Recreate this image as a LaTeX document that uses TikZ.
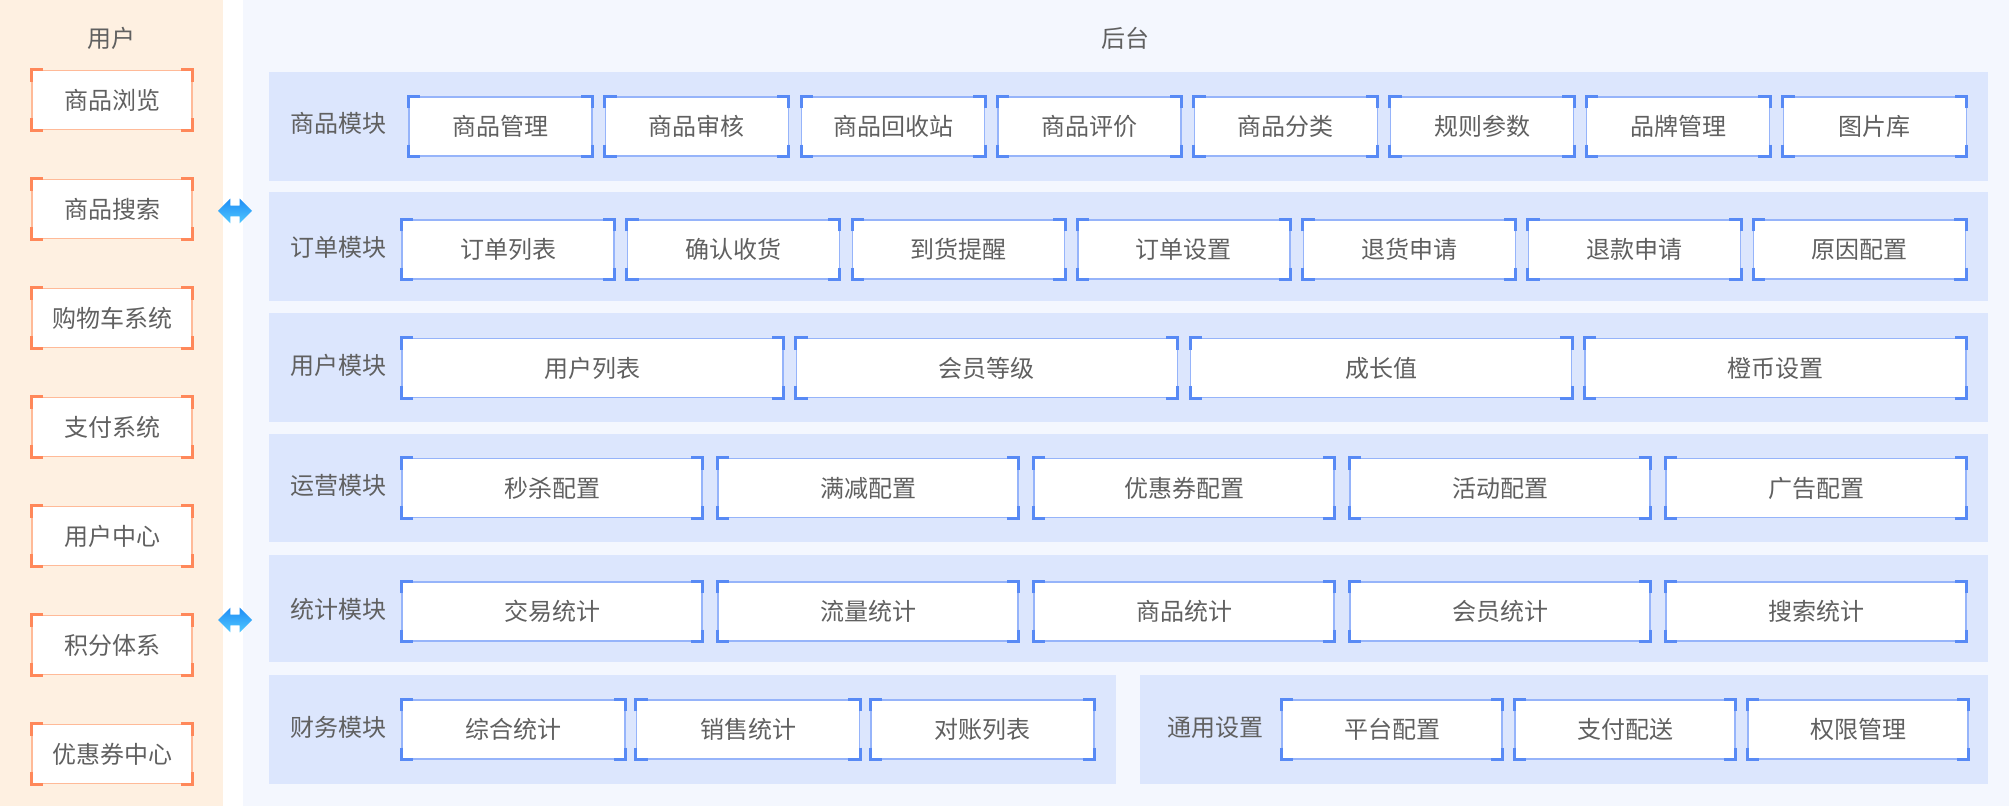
\documentclass[tikz,border=0pt]{standalone}
\usepackage{fontspec}
\setmainfont{Noto Sans CJK SC}
\usetikzlibrary{shapes.arrows}
\definecolor{panelorange}{RGB}{254,240,225}
\definecolor{backblue}{RGB}{244,247,254}
\definecolor{rowblue}{RGB}{220,230,253}
\definecolor{lineblue}{RGB}{150,180,250}
\definecolor{cornerblue}{RGB}{88,138,245}
\definecolor{lineorange}{RGB}{255,186,152}
\definecolor{cornerorange}{RGB}{255,136,90}
\definecolor{textgray}{RGB}{96,96,96}
\definecolor{arrowtop}{RGB}{30,140,245}
\definecolor{arrowbottom}{RGB}{80,200,255}
% corner brackets of a box: node name, colour
\newcommand{\boxcorners}[2]{%
  \draw[#2,line width=1.5pt] ([yshift=-6pt]#1.north west) -- (#1.north west) -- ([xshift=6pt]#1.north west);
  \draw[#2,line width=1.5pt] ([yshift=-6pt]#1.north east) -- (#1.north east) -- ([xshift=-6pt]#1.north east);
  \draw[#2,line width=1.5pt] ([yshift=6pt]#1.south west) -- (#1.south west) -- ([xshift=6pt]#1.south west);
  \draw[#2,line width=1.5pt] ([yshift=6pt]#1.south east) -- (#1.south east) -- ([xshift=-6pt]#1.south east);
}

\begin{document}
\begin{tikzpicture}[x=0.5pt,y=-0.5pt,
  every node/.style={font=\fontsize{12}{14}\selectfont,text=textgray},
  modbox/.style={draw=lineblue,line width=0.6pt,fill=white,minimum width=#1,minimum height=29.5pt,inner sep=0pt},
  userbox/.style={draw=lineorange,line width=0.6pt,fill=white,minimum width=80pt,minimum height=29.5pt,inner sep=0pt},
  twoway/.style={double arrow,double arrow head extend=3.5pt,inner xsep=0pt,inner ysep=2.5pt,minimum height=17pt,top color=arrowtop,bottom color=arrowbottom,draw=none}]
\useasboundingbox (0,0) rectangle (2009,806);
% backgrounds
\fill[white] (0,0) rectangle (2009,806);
\fill[panelorange] (0,0) rectangle (223,806);
\fill[backblue] (243,0) rectangle (2009,806);
\fill[rowblue] (269,72) rectangle (1988,181);
\fill[rowblue] (269,192) rectangle (1988,301);
\fill[rowblue] (269,313) rectangle (1988,422);
\fill[rowblue] (269,434) rectangle (1988,542);
\fill[rowblue] (269,555) rectangle (1988,662);
\fill[rowblue] (269,675) rectangle (1116,784);
\fill[rowblue] (1140,675) rectangle (1988,784);

\node (usertitle) at (111,38) {用户};
\node (backtitle) at (1125,38) {后台};

% user side
\foreach \t [count=\i] in {商品浏览,商品搜索,购物车系统,支付系统,用户中心,积分体系,优惠券中心} {
  \node[userbox] (u\i) at (112,{100+(\i-1)*109}) {\t};
  \boxcorners{u\i}{cornerorange}
}
\node[twoway] (link1) at (235,211) {};
\node[twoway] (link2) at (235,620) {};

% modules
\node (goods) at (338,123.5) {商品模块};
\foreach \t [count=\i] in {商品管理,商品审核,商品回收站,商品评价,商品分类,规则参数,品牌管理,图片库} {
  \node[modbox=91.5pt] (g\i) at ({500.5+(\i-1)*196.3},126.5) {\t};
  \boxcorners{g\i}{cornerblue}
}
\node (order) at (338,247.5) {订单模块};
\foreach \t [count=\i] in {订单列表,确认收货,到货提醒,订单设置,退货申请,退款申请,原因配置} {
  \node[modbox=106pt] (o\i) at ({508+(\i-1)*225.3},249.5) {\t};
  \boxcorners{o\i}{cornerblue}
}
\node (member) at (338,365.5) {用户模块};
\foreach \t [count=\i] in {用户列表,会员等级,成长值,橙币设置} {
  \node[modbox=190.5pt] (m\i) at ({592.5+(\i-1)*394.3},368) {\t};
  \boxcorners{m\i}{cornerblue}
}
\node (operate) at (338,485) {运营模块};
\foreach \t [count=\i] in {秒杀配置,满减配置,优惠券配置,活动配置,广告配置} {
  \node[modbox=150pt] (p\i) at ({552+(\i-1)*316},488) {\t};
  \boxcorners{p\i}{cornerblue}
}
\node (stats) at (338,609.5) {统计模块};
\foreach \t [count=\i] in {交易统计,流量统计,商品统计,会员统计,搜索统计} {
  \node[modbox=150pt] (s\i) at ({552+(\i-1)*316},611.5) {\t};
  \boxcorners{s\i}{cornerblue}
}
\node (finance) at (338,727.5) {财务模块};
\foreach \t [count=\i] in {综合统计,销售统计,对账列表} {
  \node[modbox=111.5pt] (f\i) at ({513.5+(\i-1)*234.5},729.5) {\t};
  \boxcorners{f\i}{cornerblue}
}
\node (general) at (1215,727.5) {通用设置};
\foreach \t [count=\i] in {平台配置,支付配送,权限管理} {
  \node[modbox=110pt] (c\i) at ({1392+(\i-1)*233},729.5) {\t};
  \boxcorners{c\i}{cornerblue}
}
\end{tikzpicture}
\end{document}
